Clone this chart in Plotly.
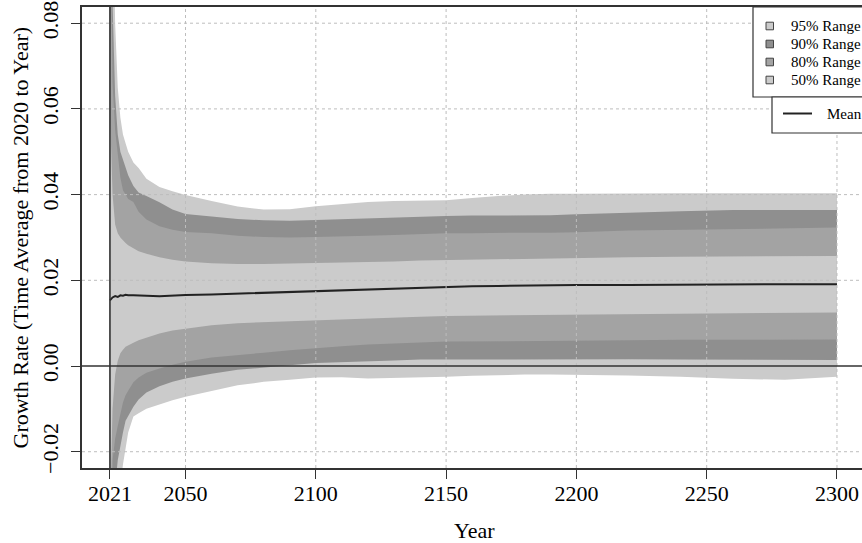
import plotly.graph_objects as go

# ---------------- data ----------------
years = [2021, 2022, 2023, 2024, 2025, 2026, 2027, 2028, 2030, 2032, 2035, 2040, 2045, 2050,
         2060, 2070, 2080, 2090, 2100, 2110, 2120, 2130, 2140, 2150, 2160, 2170, 2180, 2190,
         2200, 2220, 2240, 2260, 2280, 2300]

upper95 = [0.200, 0.110, 0.080, 0.065, 0.058, 0.054, 0.052, 0.050, 0.0475, 0.0462, 0.0437, 0.0418,
           0.0408, 0.0399, 0.0385, 0.0372, 0.0365, 0.0366, 0.0373, 0.0378, 0.0383, 0.0385, 0.0386,
           0.0387, 0.0392, 0.0397, 0.0400, 0.0402, 0.0402, 0.0403, 0.0403, 0.0403, 0.0403, 0.0403]
lower95 = [-0.170, -0.060, -0.045, -0.035, -0.028, -0.023, -0.019, -0.0155, -0.0118, -0.0110,
           -0.0100, -0.0090, -0.0080, -0.0072, -0.0058, -0.0045, -0.0037, -0.0032, -0.0027, -0.0026,
           -0.0029, -0.0028, -0.0026, -0.0025, -0.0023, -0.0021, -0.0020, -0.0020, -0.0020, -0.0022,
           -0.0025, -0.0030, -0.0032, -0.0025]

upper90 = [0.160, 0.085, 0.063, 0.054, 0.050, 0.048, 0.046, 0.0445, 0.0420, 0.0405, 0.0397, 0.0382,
           0.0365, 0.0355, 0.0349, 0.0343, 0.0340, 0.0339, 0.0341, 0.0343, 0.0345, 0.0347, 0.0349,
           0.0350, 0.0351, 0.0351, 0.0352, 0.0352, 0.0354, 0.0358, 0.0361, 0.0364, 0.0364, 0.0364]
lower90 = [-0.130, -0.040, -0.028, -0.022, -0.019, -0.0155, -0.0128, -0.0115, -0.0095, -0.0078,
           -0.0062, -0.0047, -0.0037, -0.0029, -0.0018, -0.0009, -0.0003, 0.0002, 0.0007, 0.0009,
           0.0011, 0.0013, 0.0015, 0.0016, 0.0016, 0.0016, 0.0016, 0.0016, 0.0016, 0.0016, 0.0015,
           0.0015, 0.0014, 0.0014]

upper80 = [0.120, 0.066, 0.055, 0.049, 0.044, 0.041, 0.040, 0.039, 0.0383, 0.0360, 0.0342, 0.0326,
           0.0318, 0.0313, 0.0310, 0.0304, 0.0301, 0.0300, 0.0301, 0.0302, 0.0304, 0.0306, 0.0308,
           0.0310, 0.0310, 0.0311, 0.0311, 0.0311, 0.0312, 0.0316, 0.0318, 0.0320, 0.0322, 0.0323]
lower80 = [-0.090, -0.022, -0.017, -0.014, -0.011, -0.0085, -0.0068, -0.0058, -0.0038, -0.0027,
           -0.0016, -0.0006, 0.0003, 0.0010, 0.0020, 0.0026, 0.0031, 0.0037, 0.0042, 0.0046, 0.0050,
           0.0053, 0.0055, 0.0057, 0.0058, 0.0058, 0.0059, 0.0059, 0.0059, 0.0060, 0.0061, 0.0061,
           0.0062, 0.0062]

upper50 = [0.060, 0.040, 0.033, 0.031, 0.0300, 0.0293, 0.0287, 0.0282, 0.0274, 0.0268, 0.0262,
           0.0254, 0.0248, 0.0244, 0.0240, 0.0238, 0.0238, 0.0239, 0.0240, 0.0241, 0.0243, 0.0244,
           0.0246, 0.0247, 0.0248, 0.0250, 0.0251, 0.0252, 0.0253, 0.0254, 0.0255, 0.0256, 0.0257,
           0.0257]
lower50 = [-0.035, -0.010, -0.002, 0.0012, 0.0030, 0.0038, 0.0045, 0.0049, 0.0054, 0.0060, 0.0066,
           0.0076, 0.0083, 0.0088, 0.0095, 0.0100, 0.0102, 0.0104, 0.0106, 0.0108, 0.0110, 0.0113,
           0.0115, 0.0117, 0.0118, 0.0119, 0.0120, 0.0120, 0.0121, 0.0122, 0.0123, 0.0124, 0.0124,
           0.0125]

mean = [0.0153, 0.0160, 0.0163, 0.0161, 0.0165, 0.0164, 0.0166, 0.0165, 0.0165, 0.0164, 0.0164,
        0.0163, 0.0165, 0.0166, 0.0167, 0.0169, 0.0171, 0.0172, 0.0174, 0.0177, 0.0179, 0.0181,
        0.0183, 0.0185, 0.0186, 0.0187, 0.0188, 0.0188, 0.0189, 0.0189, 0.0190, 0.0190, 0.0191,
        0.0191]

x_tickvals = [2021, 2050, 2100, 2150, 2200, 2250, 2300]
x_gridvals = [2050, 2100, 2150, 2200, 2250, 2300]
y_tickvals = [-0.02, 0.00, 0.02, 0.04, 0.06, 0.08]
y_ticktext = ["\u22120.02", "0.00", "0.02", "0.04", "0.06", "0.08"]
y_gridvals = [-0.02, 0.02, 0.04, 0.06, 0.08]
start_year = 2021

band_labels = ["95% Range", "90% Range", "80% Range", "50% Range"]
mean_label = "Mean"
x_title = "Year"
y_title = "Growth Rate (Time Average from 2020 to Year)"

# ---------------- style ----------------
FONT = "Liberation Serif, Times New Roman, serif"
LIGHT = "#cbcbcb"
DARK = "#8f8f8f"
MEDIUM = "#a3a3a3"
band_colors = [LIGHT, DARK, MEDIUM, LIGHT]
AXC = "#333333"

W, H = 862, 543
ML, MR, MT, MB = 82, 0, 7, 75
PW, PH = W - ML - MR, H - MT - MB


def px(xp):
    return (xp - ML) / PW


def py(yp):
    return (H - MB - yp) / PH


fig = go.Figure()

bands = [(upper95, lower95), (upper90, lower90), (upper80, lower80), (upper50, lower50)]
for (up, lo), col, name in zip(bands, band_colors, band_labels):
    fig.add_trace(go.Scatter(
        x=years + years[::-1], y=up + lo[::-1], fill="toself", fillcolor=col,
        mode="lines", line=dict(width=0, color=col), name=name,
        showlegend=False, hoverinfo="skip"))

fig.add_trace(go.Scatter(x=years, y=mean, mode="lines", line=dict(color="#222222", width=2),
                         name=mean_label, showlegend=False))

shapes = []
grid_style = dict(color="#bdbdbd", width=1, dash="dot")
for gx in x_gridvals:
    shapes.append(dict(type="line", xref="x", yref="paper", x0=gx, x1=gx, y0=0, y1=1,
                       line=grid_style, layer="above"))
for gy in y_gridvals:
    shapes.append(dict(type="line", xref="paper", yref="y", x0=0, x1=1, y0=gy, y1=gy,
                       line=grid_style, layer="above"))
# reference lines
shapes.append(dict(type="line", xref="x", yref="paper", x0=start_year, x1=start_year, y0=0, y1=1,
                   line=dict(color=AXC, width=1.6), layer="above"))
shapes.append(dict(type="line", xref="paper", yref="y", x0=0, x1=1, y0=0, y1=0,
                   line=dict(color=AXC, width=1.6), layer="above"))

# legend boxes (pixel layout converted to paper coords)
shapes.append(dict(type="rect", xref="paper", yref="paper", x0=px(753), x1=px(870),
                   y0=py(97), y1=py(7), line=dict(color=AXC, width=1.2), fillcolor="white",
                   layer="above"))
shapes.append(dict(type="rect", xref="paper", yref="paper", x0=px(772), x1=px(870),
                   y0=py(133), y1=py(97), line=dict(color=AXC, width=1.2), fillcolor="white",
                   layer="above"))
annotations = []
row_y = [26, 44, 62, 80]
for yy, col, lab in zip(row_y, band_colors, band_labels):
    shapes.append(dict(type="rect", xref="paper", yref="paper", x0=px(766), x1=px(773.5),
                       y0=py(yy + 3.8), y1=py(yy - 3.8), line=dict(color="#444444", width=1),
                       fillcolor=col, layer="above"))
    annotations.append(dict(xref="paper", yref="paper", x=px(789), y=py(yy), text=lab,
                            showarrow=False, xanchor="left", yanchor="middle",
                            font=dict(family=FONT, size=15, color="black")))
shapes.append(dict(type="line", xref="paper", yref="paper", x0=px(783), x1=px(812),
                   y0=py(113.5), y1=py(113.5), line=dict(color="#222222", width=2), layer="above"))
annotations.append(dict(xref="paper", yref="paper", x=px(825), y=py(114), text=mean_label,
                        showarrow=False, xanchor="left", yanchor="middle",
                        font=dict(family=FONT, size=15, color="black")))

# axis titles
annotations.append(dict(xref="paper", yref="paper", x=px(474), y=py(530), text=x_title,
                        showarrow=False, xanchor="center", yanchor="middle",
                        font=dict(family=FONT, size=22, color="black")))
annotations.append(dict(xref="paper", yref="paper", x=px(20), y=0.5, text=y_title,
                        textangle=-90, showarrow=False, xanchor="center", yanchor="middle",
                        font=dict(family=FONT, size=22, color="black")))

fig.update_layout(
    width=W, height=H, margin=dict(l=ML, r=MR, t=MT, b=MB, autoexpand=False),
    plot_bgcolor="white", paper_bgcolor="white", showlegend=False,
    shapes=shapes, annotations=annotations,
    font=dict(family=FONT, size=22, color="black"),
)
fig.update_xaxes(range=[2010.28, 2309.6], tickmode="array", tickvals=x_tickvals,
                 ticktext=[str(v) for v in x_tickvals], ticks="outside", ticklen=9,
                 tickcolor=AXC, tickwidth=1.2, showgrid=False, zeroline=False,
                 showline=True, linecolor=AXC, linewidth=1.5, mirror=True,
                 tickfont=dict(family=FONT, size=22, color="black"), ticklabelstandoff=-4)
fig.update_yaxes(range=[-0.0238, 0.08378], tickmode="array", tickvals=y_tickvals,
                 ticktext=y_ticktext, ticks="outside", ticklen=9, tickangle=-90,
                 tickcolor=AXC, tickwidth=1.2, showgrid=False, zeroline=False,
                 showline=True, linecolor=AXC, linewidth=1.5, mirror=False,
                 tickfont=dict(family=FONT, size=22, color="black"), ticklabelstandoff=4)

fig.write_html("out.html", config={"displayModeBar": False},
               post_script="document.body.style.margin='0';document.body.style.padding='0';"
                           "document.body.style.overflow='hidden';")
